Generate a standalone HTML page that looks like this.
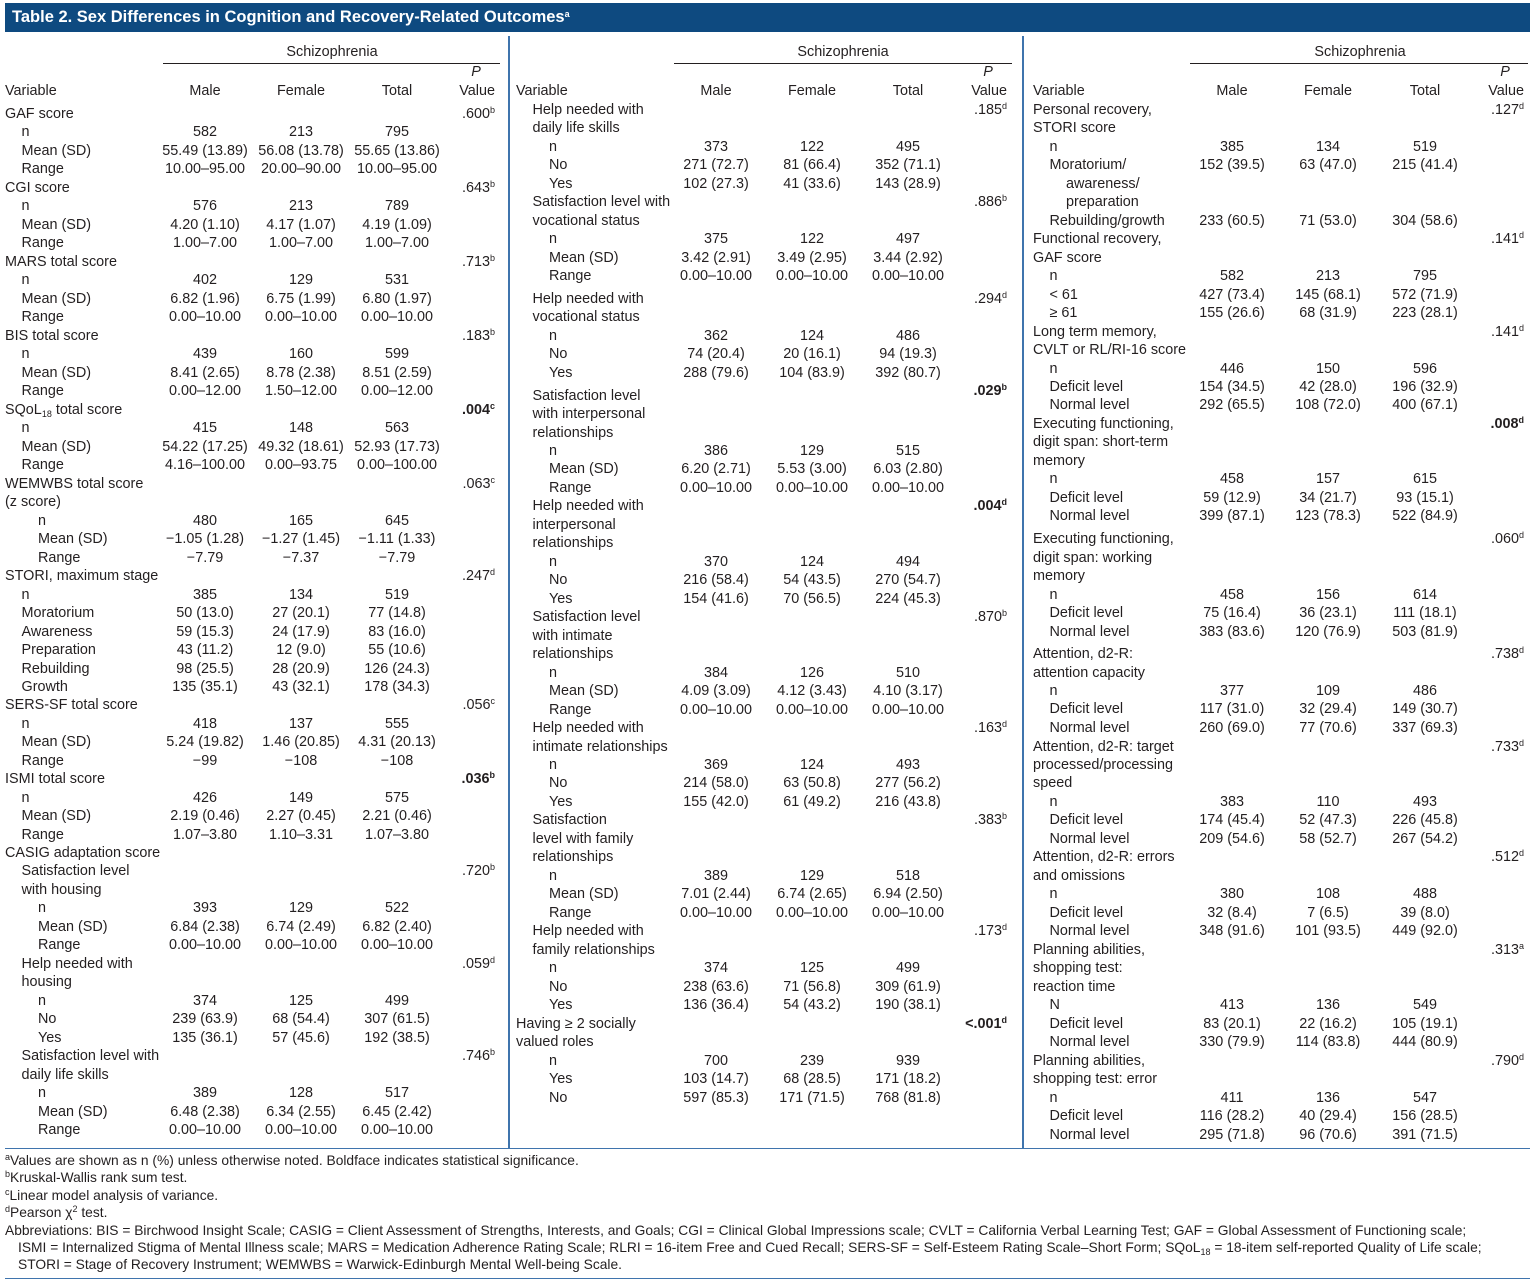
<!DOCTYPE html>
<html><head><meta charset="utf-8"><style>
body{margin:0;width:1536px;height:1284px;background:#fff;font-family:"Liberation Sans",sans-serif;color:#231f20;position:relative;overflow:hidden}
.t{position:absolute;font-size:14.4px;line-height:18px;white-space:nowrap;letter-spacing:0px}
.c{transform:translateX(-50%)}
.r{transform:translateX(-100%)}
sup{font-size:9px;vertical-align:5px;line-height:0}
sub{font-size:9px;vertical-align:-3px;line-height:0}
#title{position:absolute;left:5px;top:3px;width:1525px;height:29px;background:#0e4a80;color:#fff;font-weight:bold;font-size:16.5px;line-height:29px;padding-left:7px;box-sizing:border-box}
.vl{position:absolute;width:2px;background:#3f74ad;top:36px;height:1113px}
.hl{position:absolute;height:1px;background:#231f20}
.fn{position:absolute;left:5px;font-size:13.8px;line-height:17px;white-space:nowrap;letter-spacing:0px}
</style></head><body>
<div id="title">Table 2. Sex Differences in Cognition and Recovery-Related Outcomes<sup>a</sup></div>
<div class="vl" style="left:508px"></div>
<div class="vl" style="left:1022px"></div>
<div class="hl" style="left:5px;width:1525px;top:1148px;background:#3f74ad"></div>
<div class="hl" style="left:5px;width:1525px;top:1278px;background:#3f74ad"></div>
<div id="fns">
<div class="fn" style="top:1152px"><sup>a</sup>Values are shown as n (%) unless otherwise noted. Boldface indicates statistical significance.</div>
<div class="fn" style="top:1169px"><sup>b</sup>Kruskal-Wallis rank sum test.</div>
<div class="fn" style="top:1187px"><sup>c</sup>Linear model analysis of variance.</div>
<div class="fn" style="top:1204px"><sup>d</sup>Pearson χ<sup>2</sup> test.</div>
<div class="fn" style="top:1222px">Abbreviations: BIS = Birchwood Insight Scale; CASIG = Client Assessment of Strengths, Interests, and Goals; CGI = Clinical Global Impressions scale; CVLT = California Verbal Learning Test; GAF = Global Assessment of Functioning scale;</div>
<div class="fn" style="top:1239px;left:18px">ISMI = Internalized Stigma of Mental Illness scale; MARS = Medication Adherence Rating Scale; RLRI = 16-item Free and Cued Recall; SERS-SF = Self-Esteem Rating Scale–Short Form; SQoL<sub>18</sub> = 18-item self-reported Quality of Life scale;</div>
<div class="fn" style="top:1256px;left:18px">STORI = Stage of Recovery Instrument; WEMWBS = Warwick-Edinburgh Mental Well-being Scale.</div>
</div>
<script>
const cols=[
{x0:5,m:205,f:301,t:397,p:495,sc:332,ul:[163,500],rows:[
[113,0,"GAF score","","","",".600^b"],[131,1,"n","582","213","795"],[150,1,"Mean (SD)","55.49 (13.89)","56.08 (13.78)","55.65 (13.86)"],[168,1,"Range","10.00–95.00","20.00–90.00","10.00–95.00"],
[187,0,"CGI score","","","",".643^b"],[205,1,"n","576","213","789"],[224,1,"Mean (SD)","4.20 (1.10)","4.17 (1.07)","4.19 (1.09)"],[242,1,"Range","1.00–7.00","1.00–7.00","1.00–7.00"],
[261,0,"MARS total score","","","",".713^b"],[279,1,"n","402","129","531"],[298,1,"Mean (SD)","6.82 (1.96)","6.75 (1.99)","6.80 (1.97)"],[316,1,"Range","0.00–10.00","0.00–10.00","0.00–10.00"],
[335,0,"BIS total score","","","",".183^b"],[353,1,"n","439","160","599"],[372,1,"Mean (SD)","8.41 (2.65)","8.78 (2.38)","8.51 (2.59)"],[390,1,"Range","0.00–12.00","1.50–12.00","0.00–12.00"],
[409,0,"SQoL_18 total score","","","","*.004^c"],[427,1,"n","415","148","563"],[446,1,"Mean (SD)","54.22 (17.25)","49.32 (18.61)","52.93 (17.73)"],[464,1,"Range","4.16–100.00","0.00–93.75","0.00–100.00"],
[483,0,"WEMWBS total score","","","",".063^c"],[501,0,"(z score)"],[520,2,"n","480","165","645"],[538,2,"Mean (SD)","−1.05 (1.28)","−1.27 (1.45)","−1.11 (1.33)"],[557,2,"Range","−7.79","−7.37","−7.79"],
[575,0,"STORI, maximum stage","","","",".247^d"],[594,1,"n","385","134","519"],[612,1,"Moratorium","50 (13.0)","27 (20.1)","77 (14.8)"],[631,1,"Awareness","59 (15.3)","24 (17.9)","83 (16.0)"],[649,1,"Preparation","43 (11.2)","12 (9.0)","55 (10.6)"],[668,1,"Rebuilding","98 (25.5)","28 (20.9)","126 (24.3)"],[686,1,"Growth","135 (35.1)","43 (32.1)","178 (34.3)"],
[704,0,"SERS-SF total score","","","",".056^c"],[723,1,"n","418","137","555"],[741,1,"Mean (SD)","5.24 (19.82)","1.46 (20.85)","4.31 (20.13)"],[760,1,"Range","−99","−108","−108"],
[778,0,"ISMI total score","","","","*.036^b"],[797,1,"n","426","149","575"],[815,1,"Mean (SD)","2.19 (0.46)","2.27 (0.45)","2.21 (0.46)"],[834,1,"Range","1.07–3.80","1.10–3.31","1.07–3.80"],
[852,0,"CASIG adaptation score"],[870,1,"Satisfaction level","","","",".720^b"],[889,1,"with housing"],[907,2,"n","393","129","522"],[926,2,"Mean (SD)","6.84 (2.38)","6.74 (2.49)","6.82 (2.40)"],[944,2,"Range","0.00–10.00","0.00–10.00","0.00–10.00"],
[963,1,"Help needed with","","","",".059^d"],[981,1,"housing"],[1000,2,"n","374","125","499"],[1018,2,"No","239 (63.9)","68 (54.4)","307 (61.5)"],[1037,2,"Yes","135 (36.1)","57 (45.6)","192 (38.5)"],
[1055,1,"Satisfaction level with","","","",".746^b"],[1074,1,"daily life skills"],[1092,2,"n","389","128","517"],[1111,2,"Mean (SD)","6.48 (2.38)","6.34 (2.55)","6.45 (2.42)"],[1129,2,"Range","0.00–10.00","0.00–10.00","0.00–10.00"]]},
{x0:516,m:716,f:812,t:908,p:1007,sc:843,ul:[674,1012],rows:[
[109,1,"Help needed with","","","",".185^d"],[127,1,"daily life skills"],[146,2,"n","373","122","495"],[164,2,"No","271 (72.7)","81 (66.4)","352 (71.1)"],[183,2,"Yes","102 (27.3)","41 (33.6)","143 (28.9)"],
[201,1,"Satisfaction level with","","","",".886^b"],[220,1,"vocational status"],[238,2,"n","375","122","497"],[257,2,"Mean (SD)","3.42 (2.91)","3.49 (2.95)","3.44 (2.92)"],[275,2,"Range","0.00–10.00","0.00–10.00","0.00–10.00"],
[298,1,"Help needed with","","","",".294^d"],[316,1,"vocational status"],[335,2,"n","362","124","486"],[353,2,"No","74 (20.4)","20 (16.1)","94 (19.3)"],[372,2,"Yes","288 (79.6)","104 (83.9)","392 (80.7)"],
[395,1,"Satisfaction level"],[390,1,"","","","","*.029^b"],[413,1,"with interpersonal"],[432,1,"relationships"],[450,2,"n","386","129","515"],[468,2,"Mean (SD)","6.20 (2.71)","5.53 (3.00)","6.03 (2.80)"],[487,2,"Range","0.00–10.00","0.00–10.00","0.00–10.00"],
[505,1,"Help needed with","","","","*.004^d"],[524,1,"interpersonal"],[542,1,"relationships"],[561,2,"n","370","124","494"],[579,2,"No","216 (58.4)","54 (43.5)","270 (54.7)"],[598,2,"Yes","154 (41.6)","70 (56.5)","224 (45.3)"],
[616,1,"Satisfaction level","","","",".870^b"],[635,1,"with intimate"],[653,1,"relationships"],[672,2,"n","384","126","510"],[690,2,"Mean (SD)","4.09 (3.09)","4.12 (3.43)","4.10 (3.17)"],[709,2,"Range","0.00–10.00","0.00–10.00","0.00–10.00"],
[727,1,"Help needed with","","","",".163^d"],[746,1,"intimate relationships"],[764,2,"n","369","124","493"],[782,2,"No","214 (58.0)","63 (50.8)","277 (56.2)"],[801,2,"Yes","155 (42.0)","61 (49.2)","216 (43.8)"],
[819,1,"Satisfaction","","","",".383^b"],[838,1,"level with family"],[856,1,"relationships"],[875,2,"n","389","129","518"],[893,2,"Mean (SD)","7.01 (2.44)","6.74 (2.65)","6.94 (2.50)"],[912,2,"Range","0.00–10.00","0.00–10.00","0.00–10.00"],
[930,1,"Help needed with","","","",".173^d"],[949,1,"family relationships"],[967,2,"n","374","125","499"],[986,2,"No","238 (63.6)","71 (56.8)","309 (61.9)"],[1004,2,"Yes","136 (36.4)","54 (43.2)","190 (38.1)"],
[1023,0,"Having ≥ 2 socially","","","","*&lt;.001^d"],[1041,0,"valued roles"],[1060,2,"n","700","239","939"],[1078,2,"Yes","103 (14.7)","68 (28.5)","171 (18.2)"],[1097,2,"No","597 (85.3)","171 (71.5)","768 (81.8)"]]},
{x0:1033,m:1232,f:1328,t:1425,p:1524,sc:1360,ul:[1190,1528],rows:[
[109,0,"Personal recovery,","","","",".127^d"],[127,0,"STORI score"],[146,1,"n","385","134","519"],[164,1,"Moratorium/","152 (39.5)","63 (47.0)","215 (41.4)"],[183,2,"awareness/"],[201,2,"preparation"],[220,1,"Rebuilding/growth","233 (60.5)","71 (53.0)","304 (58.6)"],
[238,0,"Functional recovery,","","","",".141^d"],[257,0,"GAF score"],[275,1,"n","582","213","795"],[294,1,"&lt; 61","427 (73.4)","145 (68.1)","572 (71.9)"],[312,1,"≥ 61","155 (26.6)","68 (31.9)","223 (28.1)"],
[331,0,"Long term memory,","","","",".141^d"],[349,0,"CVLT or RL/RI-16 score"],[368,1,"n","446","150","596"],[386,1,"Deficit level","154 (34.5)","42 (28.0)","196 (32.9)"],[404,1,"Normal level","292 (65.5)","108 (72.0)","400 (67.1)"],
[423,0,"Executing functioning,","","","","*.008^d"],[441,0,"digit span: short-term"],[460,0,"memory"],[478,1,"n","458","157","615"],[497,1,"Deficit level","59 (12.9)","34 (21.7)","93 (15.1)"],[515,1,"Normal level","399 (87.1)","123 (78.3)","522 (84.9)"],
[538,0,"Executing functioning,","","","",".060^d"],[557,0,"digit span: working"],[575,0,"memory"],[594,1,"n","458","156","614"],[612,1,"Deficit level","75 (16.4)","36 (23.1)","111 (18.1)"],[631,1,"Normal level","383 (83.6)","120 (76.9)","503 (81.9)"],
[653,0,"Attention, d2-R:","","","",".738^d"],[672,0,"attention capacity"],[690,1,"n","377","109","486"],[708,1,"Deficit level","117 (31.0)","32 (29.4)","149 (30.7)"],[727,1,"Normal level","260 (69.0)","77 (70.6)","337 (69.3)"],
[746,0,"Attention, d2-R: target","","","",".733^d"],[764,0,"processed/processing"],[782,0,"speed"],[801,1,"n","383","110","493"],[819,1,"Deficit level","174 (45.4)","52 (47.3)","226 (45.8)"],[838,1,"Normal level","209 (54.6)","58 (52.7)","267 (54.2)"],
[856,0,"Attention, d2-R: errors","","","",".512^d"],[875,0,"and omissions"],[893,1,"n","380","108","488"],[912,1,"Deficit level","32 (8.4)","7 (6.5)","39 (8.0)"],[930,1,"Normal level","348 (91.6)","101 (93.5)","449 (92.0)"],
[949,0,"Planning abilities,","","","",".313^a"],[967,0,"shopping test:"],[986,0,"reaction time"],[1004,1,"N","413","136","549"],[1023,1,"Deficit level","83 (20.1)","22 (16.2)","105 (19.1)"],[1041,1,"Normal level","330 (79.9)","114 (83.8)","444 (80.9)"],
[1060,0,"Planning abilities,","","","",".790^d"],[1078,0,"shopping test: error"],[1097,1,"n","411","136","547"],[1115,1,"Deficit level","116 (28.2)","40 (29.4)","156 (28.5)"],[1134,1,"Normal level","295 (71.8)","96 (70.6)","391 (71.5)"]]}
];
function fmt(s){return s.replace(/\^(\w)/g,'<sup>$1</sup>').replace(/_(\d+)/g,'<sub>$1</sub>');}
function add(x,y,html,cls,name,extra){
  const d=document.createElement('div');
  d.className='t '+(cls||'');
  d.style.left=x+'px';d.style.top=(y-8)+'px';
  if(extra)d.style.cssText+=extra;
  d.innerHTML=html;
  
  
  document.body.appendChild(d);
}
cols.forEach((c,ci)=>{
  add(c.sc,51,'Schizophrenia','c','group-header');
  const u=document.createElement('div');u.className='hl';
  u.style.left=c.ul[0]+'px';u.style.width=(c.ul[1]-c.ul[0])+'px';u.style.top='63px';
  
  
  document.body.appendChild(u);
  add(c.x0,90,'Variable','','variable-header');
  add(c.m,90,'Male','c','male-header');
  add(c.f,90,'Female','c','female-header');
  add(c.t,90,'Total','c','total-header');
  add(c.p-19,71,'P','c','p-header','font-style:italic');
  add(c.p,90,'Value','r','value-header');
  c.rows.forEach(r=>{
    const [y,ind,lab,m,f,t,p]=r;
    if(lab)add(c.x0+ind*16.5,y,fmt(lab),'','row-label');
    if(m)add(c.m,y,m,'c','male-value');
    if(f)add(c.f,y,f,'c','female-value');
    if(t)add(c.t,y,t,'c','total-value');
    if(p){let b=p[0]=='*';let s=b?p.slice(1):p;add(c.p,y,fmt(s),'r','p-value',b?'font-weight:bold':'');}
  });
});
</script>
</body></html>
